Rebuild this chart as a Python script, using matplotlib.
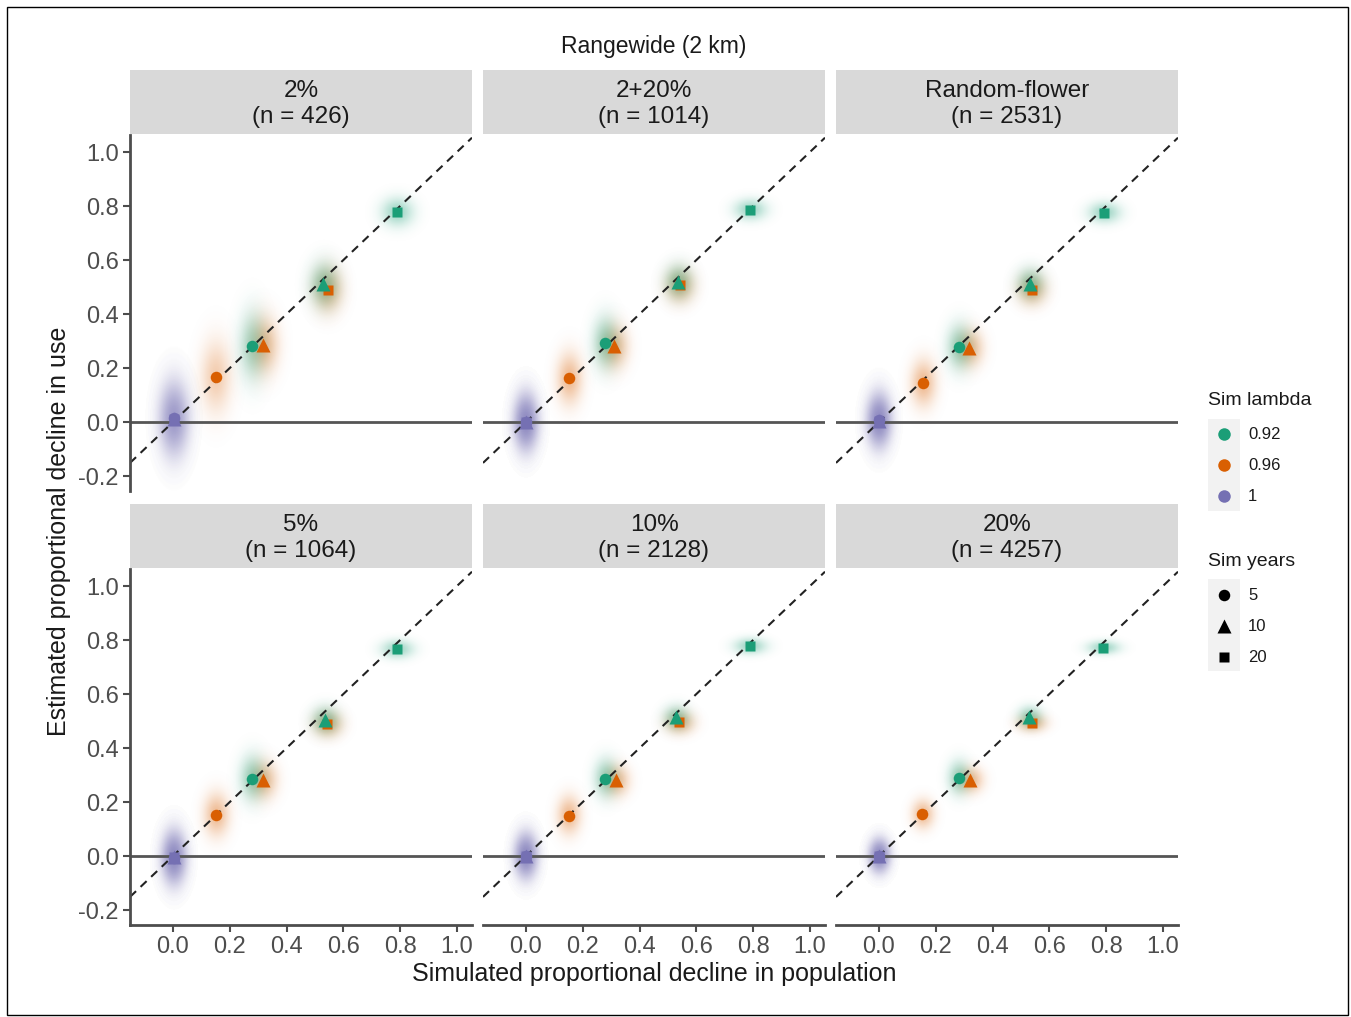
import numpy as np
import matplotlib
matplotlib.use("Agg")
import matplotlib.pyplot as plt
from matplotlib.colors import to_rgb
from matplotlib.patches import Rectangle

plt.rcParams['font.family'] = ['Liberation Sans', 'DejaVu Sans']

# facet labels (row-major)
panel_labels = ["2%\n(n = 426)", "2+20%\n(n = 1014)", "Random-flower\n(n = 2531)",
                "5%\n(n = 1064)", "10%\n(n = 2128)", "20%\n(n = 4257)"]

# one entry per simulation scenario: lambda x years
combo_lambda = [1, 1, 1, 0.96, 0.96, 0.96, 0.92, 0.92, 0.92]
combo_years = [5, 10, 20, 5, 10, 20, 5, 10, 20]

# mean simulated decline (x) and mean estimated decline (y) per panel
sim_decline = [
    [0.004, 0.004, 0.004, 0.151, 0.318, 0.545, 0.280, 0.529, 0.790],
    [0.000, 0.000, 0.000, 0.151, 0.310, 0.542, 0.278, 0.536, 0.789],
    [0.000, 0.000, 0.000, 0.154, 0.318, 0.538, 0.283, 0.532, 0.792],
    [0.003, 0.003, 0.003, 0.151, 0.318, 0.543, 0.280, 0.537, 0.790],
    [0.000, 0.000, 0.000, 0.151, 0.316, 0.540, 0.280, 0.530, 0.789],
    [0.000, 0.000, 0.000, 0.152, 0.320, 0.538, 0.282, 0.530, 0.790],
]
est_decline = [
    [0.017, 0.012, 0.010, 0.168, 0.285, 0.491, 0.281, 0.511, 0.777],
    [0.000, 0.000, 0.000, 0.162, 0.281, 0.507, 0.294, 0.520, 0.785],
    [0.007, 0.005, 0.004, 0.143, 0.273, 0.490, 0.277, 0.511, 0.773],
    [-0.006, -0.004, -0.004, 0.154, 0.280, 0.489, 0.286, 0.503, 0.768],
    [0.000, 0.000, 0.000, 0.150, 0.280, 0.495, 0.287, 0.514, 0.778],
    [0.000, 0.000, 0.000, 0.155, 0.280, 0.493, 0.290, 0.514, 0.772],
]

# spread (sd) of the individual replicate estimates around each mean
spread_x = [
    [0.034, 0.034, 0.034, 0.036, 0.034, 0.034, 0.032, 0.034, 0.038],
    [0.028, 0.028, 0.028, 0.030, 0.032, 0.034, 0.030, 0.032, 0.038],
    [0.028, 0.028, 0.028, 0.030, 0.032, 0.034, 0.030, 0.032, 0.038],
    [0.028, 0.028, 0.028, 0.030, 0.032, 0.034, 0.030, 0.032, 0.038],
    [0.026, 0.026, 0.026, 0.028, 0.030, 0.034, 0.028, 0.030, 0.038],
    [0.024, 0.024, 0.024, 0.026, 0.030, 0.034, 0.026, 0.028, 0.038],
]
spread_y = [
    [0.090, 0.090, 0.090, 0.090, 0.070, 0.055, 0.085, 0.055, 0.036],
    [0.068, 0.068, 0.068, 0.064, 0.054, 0.042, 0.064, 0.042, 0.026],
    [0.064, 0.064, 0.064, 0.058, 0.046, 0.038, 0.056, 0.038, 0.026],
    [0.064, 0.064, 0.064, 0.054, 0.046, 0.032, 0.056, 0.034, 0.023],
    [0.054, 0.054, 0.054, 0.048, 0.038, 0.028, 0.048, 0.030, 0.020],
    [0.040, 0.040, 0.040, 0.036, 0.032, 0.022, 0.042, 0.026, 0.017],
]

lambda_levels = [0.92, 0.96, 1]
lambda_colors = {0.92: '#1B9E77', 0.96: '#D95F02', 1: '#7570B3'}
year_levels = [5, 10, 20]
year_markers = {5: ('o', 8.3), 10: ('^', 10.5), 20: ('s', 7.5)}

xticks = [0.0, 0.2, 0.4, 0.6, 0.8, 1.0]
yticks = [-0.2, 0.0, 0.2, 0.4, 0.6, 0.8, 1.0]
xlim = (-0.151, 1.053)
ylim = (-0.255, 1.063)

W, H = 1351, 1017


def box(left, top, width, height):
    """Pixel box (from top-left) to figure fraction rect."""
    return [left / W, 1 - (top + height) / H, width / W, height / H]


def cloud(ax, x, y, sx, sy, color):
    """Soft density blob for the replicate estimates of one scenario."""
    gx = np.linspace(x - 4 * sx, x + 4 * sx, 101)
    gy = np.linspace(y - 4 * sy, y + 4 * sy, 101)
    X, Y = np.meshgrid(gx, gy)
    g = np.exp(-0.5 * (((X - x) / sx) ** 2 + ((Y - y) / sy) ** 2))
    peak = min(0.42, 0.001 / (sx * sy))
    rgba = np.zeros(g.shape + (4,))
    rgba[..., :3] = to_rgb(color)
    rgba[..., 3] = peak * g
    ax.imshow(rgba, extent=(gx[0], gx[-1], gy[0], gy[-1]), origin='lower',
              aspect='auto', interpolation='bilinear', zorder=1)


fig = plt.figure(figsize=(W / 100, H / 100), dpi=100)
fig.patches.append(Rectangle((7 / W, 1 - 1015 / H), 1341 / W, 1008 / H,
                             transform=fig.transFigure, fill=False,
                             edgecolor='black', lw=1.0))

col_left = [130, 483, 836]
row_top = [135, 569]
panel_w, panel_h = 342, 356
strip_h = 65
axis_grey = '#4D4D4D'

for i, label in enumerate(panel_labels):
    r, c = divmod(i, 3)
    ax = fig.add_axes(box(col_left[c], row_top[r], panel_w, panel_h))
    sax = fig.add_axes(box(col_left[c], row_top[r] - strip_h, panel_w, strip_h - 1))
    sax.set_facecolor('#D9D9D9')
    sax.set_xticks([])
    sax.set_yticks([])
    for s in sax.spines.values():
        s.set_visible(False)
    sax.text(0.5, 0.47, label, ha='center', va='center', fontsize=17.5,
             color='#1A1A1A', linespacing=1.2, transform=sax.transAxes)

    for j in range(len(combo_lambda)):
        cloud(ax, sim_decline[i][j], est_decline[i][j], spread_x[i][j],
              spread_y[i][j], lambda_colors[combo_lambda[j]])

    ax.axhline(0, color='#555555', lw=2.0, zorder=2)
    ax.plot(xlim, xlim, color='#222222', lw=1.5, ls=(0, (4, 3)), zorder=2)

    # circles first, then squares, then triangles on top
    for yr in [5, 20, 10]:
        mk, ms = year_markers[yr]
        for j in range(len(combo_lambda)):
            if combo_years[j] != yr:
                continue
            ax.plot(sim_decline[i][j], est_decline[i][j], marker=mk, ms=ms,
                    color=lambda_colors[combo_lambda[j]], mec='none',
                    ls='none', zorder=3 if combo_lambda[j] != 1 else 4)

    ax.set_xlim(xlim)
    ax.set_ylim(ylim)
    ax.set_xticks(xticks)
    ax.set_yticks(yticks)
    ax.set_facecolor('none')
    ax.spines['top'].set_visible(False)
    ax.spines['right'].set_visible(False)
    ax.tick_params(colors=axis_grey, labelcolor='#4D4D4D', labelsize=17,
                   length=5, width=1.5, pad=3)
    for s in ('left', 'bottom'):
        ax.spines[s].set_color(axis_grey)
        ax.spines[s].set_linewidth(2.0)
    if c != 0:
        ax.spines['left'].set_visible(False)
        ax.tick_params(axis='y', left=False, labelleft=False)
    else:
        ax.set_yticklabels([f'{t:.1f}' for t in yticks])
    if r != 1:
        ax.spines['bottom'].set_visible(False)
        ax.tick_params(axis='x', bottom=False, labelbottom=False)
    else:
        ax.set_xticklabels([f'{t:.1f}' for t in xticks])

fig.text(654 / W, 1 - 47 / H, 'Rangewide (2 km)', ha='center', va='center',
         fontsize=16.5, color='#1A1A1A')
fig.text(654 / W, 1 - 974 / H, 'Simulated proportional decline in population',
         ha='center', va='center', fontsize=18, color='#1A1A1A')
fig.text(59 / W, 1 - 531 / H, 'Estimated proportional decline in use',
         ha='center', va='center', rotation=90, fontsize=18, color='#1A1A1A')

# legend panel in pixel coordinates
lax = fig.add_axes(box(1195, 380, 150, 310))
lax.set_xlim(1195, 1345)
lax.set_ylim(690, 380)
lax.axis('off')

lax.text(1208, 400, 'Sim lambda', ha='left', va='center', fontsize=14,
         color='#1A1A1A')
lax.add_patch(Rectangle((1208, 419), 32, 92, facecolor='#F2F2F2',
                        edgecolor='none'))
for k, lam in enumerate(lambda_levels):
    yy = 434 + 31 * k
    lax.plot(1224, yy, marker='o', ms=9, color=lambda_colors[lam], mec='none')
    lax.text(1248, yy, f'{lam:g}', ha='left', va='center', fontsize=12,
             color='#1A1A1A')

lax.text(1208, 561, 'Sim years', ha='left', va='center', fontsize=14,
         color='#1A1A1A')
lax.add_patch(Rectangle((1208, 579), 32, 92, facecolor='#F2F2F2',
                        edgecolor='none'))
for k, yr in enumerate(year_levels):
    yy = 595 + 31 * k
    mk, ms = year_markers[yr]
    lax.plot(1224, yy, marker=mk, ms=ms, color='black', mec='none')
    lax.text(1248, yy, str(yr), ha='left', va='center', fontsize=12,
             color='#1A1A1A')

fig.savefig('out.png', dpi=100)
